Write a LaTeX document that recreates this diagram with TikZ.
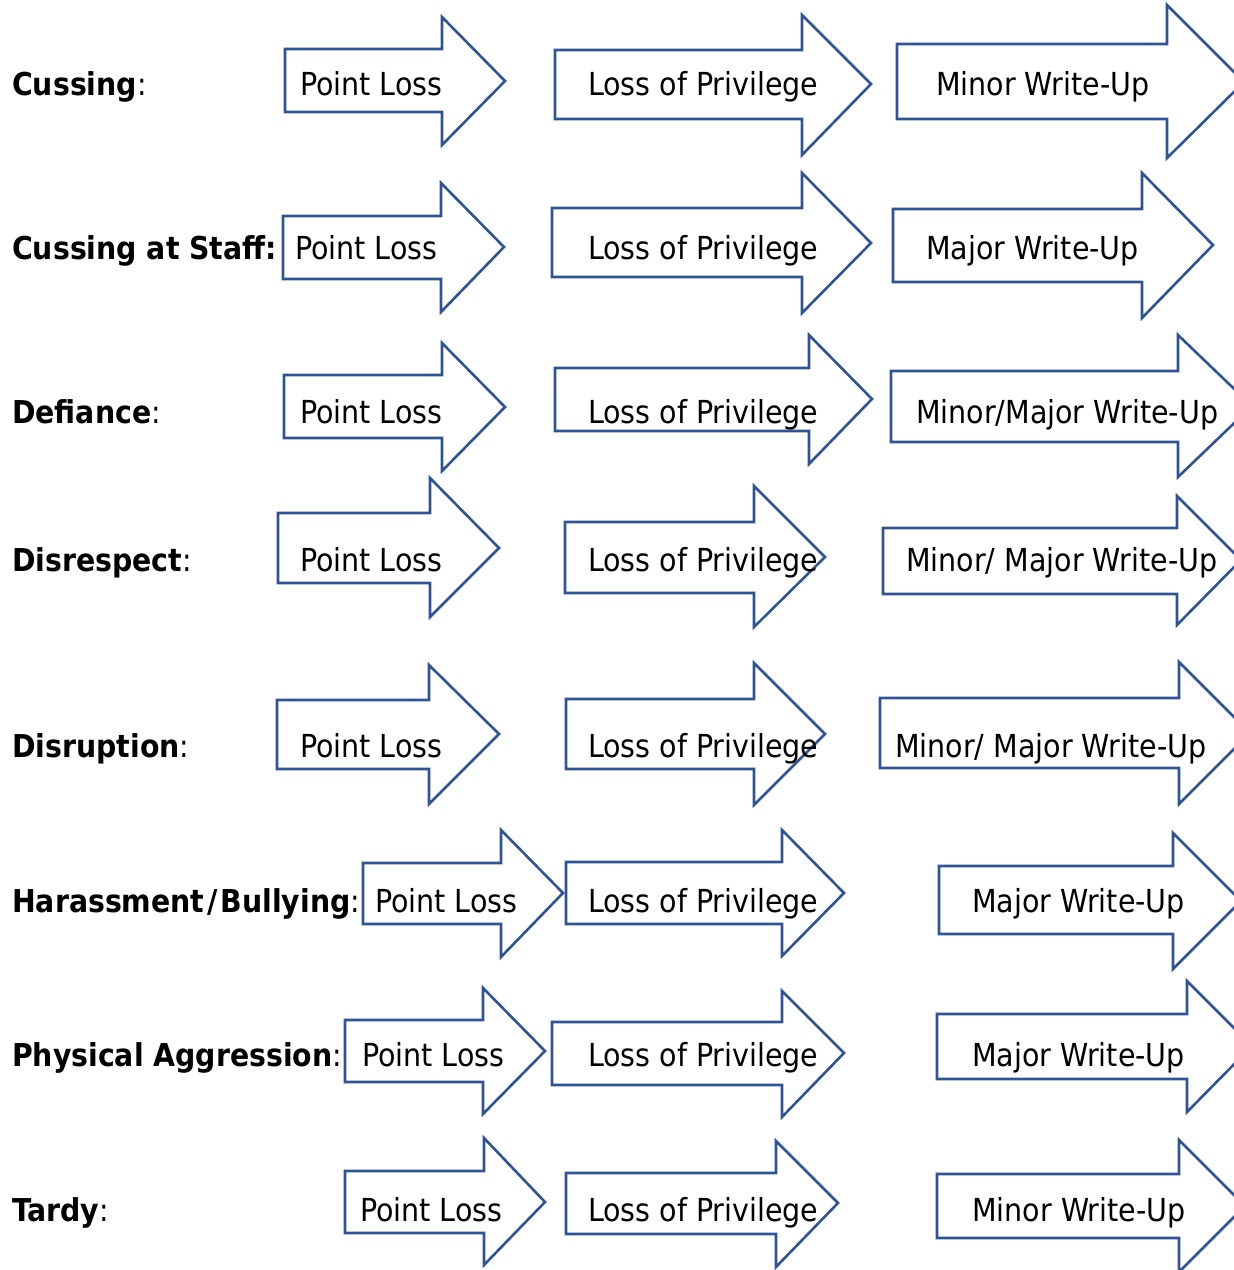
\documentclass[tikz,border=0pt]{standalone}
\usepackage{fontspec}
\setmainfont{DejaVu Sans Condensed}
\definecolor{arrblue}{HTML}{2F5496}
\newcommand\blockarrow[8]{%
  \draw[arr] (#1,#2) -- (#4,#2) -- (#4,#5) -- (#7,#8) -- (#4,#6) -- (#4,#3) -- (#1,#3) -- cycle;}
\tikzset{
  arr/.style={draw=arrblue, line width=2.6pt, line join=miter, fill=white},
  txt/.style={anchor=base west, inner sep=0pt, font=\fontsize{31.7}{36}\selectfont},
  lbl/.style={anchor=base west, inner sep=0pt, font=\fontsize{31.5}{36}\selectfont}
}
\begin{document}
\begin{tikzpicture}[x=1pt,y=-1pt]
\useasboundingbox (0,0) rectangle (1234,1270);
\clip (0,0) rectangle (1234,1270);
% row 1
\blockarrow{285}{49}{112}{442}{17}{145}{505}{81}
\blockarrow{555}{50}{119}{802}{15}{155}{871}{84}
\blockarrow{897}{44}{119}{1167}{5}{158}{1244}{82}
% row 2
\blockarrow{283}{216}{279}{441}{183}{312}{504}{247}
\blockarrow{552}{208}{277}{802}{173}{313}{871}{243}
\blockarrow{893}{209}{282}{1142}{173}{318}{1213}{245}
% row 3
\blockarrow{284}{375}{438}{442}{343}{471}{505}{407}
\blockarrow{555}{368}{431}{809}{335}{464}{872}{399}
\blockarrow{891}{371}{442}{1178}{335}{477}{1252}{406}
% row 4
\blockarrow{278}{513}{583}{430}{478}{617}{499}{548}
\blockarrow{565}{522}{593}{754}{486}{627}{825}{557}
\blockarrow{883}{528}{594}{1177}{496}{625}{1241}{560}
% row 5
\blockarrow{277}{700}{769}{429}{665}{804}{499}{734}
\blockarrow{566}{699}{769}{754}{663}{805}{825}{734}
\blockarrow{880}{698}{768}{1179}{662}{804}{1250}{733}
% row 6
\blockarrow{363}{863}{924}{501}{830}{957}{563}{893}
\blockarrow{566}{862}{924}{782}{830}{956}{844}{893}
\blockarrow{939}{866}{934}{1173}{833}{969}{1241}{901}
% row 7
\blockarrow{345}{1020}{1082}{483}{988}{1114}{545}{1051}
\blockarrow{552}{1022}{1085}{782}{991}{1117}{844}{1053}
\blockarrow{937}{1014}{1079}{1187}{981}{1112}{1252}{1046}
% row 8
\blockarrow{345}{1171}{1233}{484}{1138}{1265}{545}{1202}
\blockarrow{566}{1173}{1234}{776}{1141}{1267}{838}{1203}
\blockarrow{937}{1174}{1238}{1179}{1140}{1272}{1245}{1206}
% labels
\node[lbl] (l1) at (12,95) {\textbf{Cussing}:};
\node[lbl] (l2) at (12,259) {\textbf{Cussing at Staff:}};
\node[lbl] (l3) at (12,423) {\textbf{Defiance}:};
\node[lbl] (l4) at (12,571) {\textbf{Disrespect}:};
\node[lbl] (l5) at (12,757) {\textbf{Disruption}:};
\node[lbl] (l6) at (12,912) {\textbf{Harassment\kern3pt/\kern3pt Bullying}:};
\node[lbl] (l7) at (12,1066) {\textbf{Physical Aggression}:};
\node[lbl] (l8) at (12,1221) {\textbf{Tardy}:};
% texts
\node[txt] (a1) at (300,95) {Point Loss};
\node[txt] (a2) at (588,95) {Loss of Privilege};
\node[txt] (a3) at (936,95) {Minor Write-Up};
\node[txt] (b1) at (295,259) {Point Loss};
\node[txt] (b2) at (588,259) {Loss of Privilege};
\node[txt] (b3) at (926,259) {Major Write-Up};
\node[txt] (c1) at (300,423) {Point Loss};
\node[txt] (c2) at (588,423) {Loss of Privilege};
\node[txt] (c3) at (916,423) {Minor/Major Write-Up};
\node[txt] (d1) at (300,571) {Point Loss};
\node[txt] (d2) at (588,571) {Loss of Privilege};
\node[txt] (d3) at (906,571) {Minor/ Major Write-Up};
\node[txt] (e1) at (300,757) {Point Loss};
\node[txt] (e2) at (588,757) {Loss of Privilege};
\node[txt] (e3) at (895,757) {Minor/ Major Write-Up};
\node[txt] (f1) at (375,912) {Point Loss};
\node[txt] (f2) at (588,912) {Loss of Privilege};
\node[txt] (f3) at (972,912) {Major Write-Up};
\node[txt] (g1) at (362,1066) {Point Loss};
\node[txt] (g2) at (588,1066) {Loss of Privilege};
\node[txt] (g3) at (972,1066) {Major Write-Up};
\node[txt] (h1) at (360,1221) {Point Loss};
\node[txt] (h2) at (588,1221) {Loss of Privilege};
\node[txt] (h3) at (972,1221) {Minor Write-Up};
\end{tikzpicture}
\end{document}
